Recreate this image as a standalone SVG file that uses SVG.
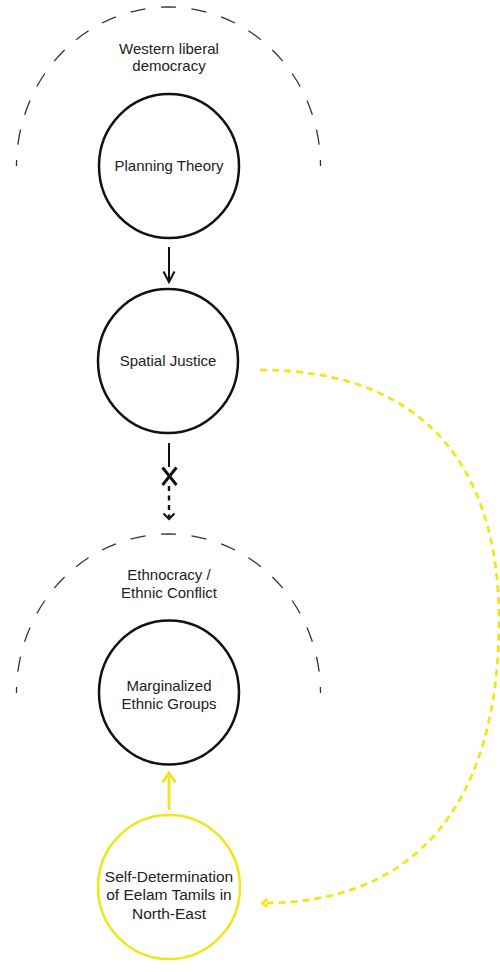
<svg xmlns="http://www.w3.org/2000/svg" width="500" height="972" viewBox="0 0 500 972">
  <style>
    text { font-family: "Liberation Sans", Arial, Helvetica, sans-serif; font-size: 15px; fill: #222; text-anchor: middle; }
    .node { fill: #fff; stroke: #111; stroke-width: 2.5; }
    .ynode { fill: #fff; stroke: #EFE61E; stroke-width: 2.6; }
    .ctx { fill: none; stroke: #333; stroke-width: 1.3; stroke-dasharray: 15 15.2; stroke-dashoffset: 9.1; }
    .blk { fill: none; stroke: #111; stroke-width: 2; }
    .ylw { fill: none; stroke: #EFE61E; stroke-width: 2.8; }
  </style>
  <rect width="500" height="972" fill="#fff"/>

  <g id="context-western">
    <path class="ctx" pathLength="480" d="M16.5,166 A152,159 0 0 1 320.5,166"/>
    <text x="169" y="54">Western liberal</text>
    <text x="169" y="71">democracy</text>
  </g>

  <g id="context-ethnocracy">
    <path class="ctx" pathLength="480" d="M16.5,693 A152,159 0 0 1 320.5,693"/>
    <text x="169" y="580">Ethnocracy /</text>
    <text x="169" y="598">Ethnic Conflict</text>
  </g>

  <g id="connectors">
    <!-- Planning Theory -> Spatial Justice -->
    <line class="blk" x1="169" y1="247" x2="169" y2="282"/>
    <polyline class="blk" points="163.5,271.5 169,282 174.5,271.5"/>
    <!-- Spatial Justice -X-> Marginalized -->
    <line class="blk" x1="169" y1="443" x2="169" y2="467"/>
    <line x1="162.5" y1="467.5" x2="176.5" y2="485" stroke="#111" stroke-width="2.9"/>
    <line x1="176.5" y1="467.5" x2="162.5" y2="485" stroke="#111" stroke-width="2.9"/>
    <line x1="169" y1="486" x2="169" y2="517" stroke="#111" stroke-width="2.4" stroke-dasharray="5 4.5"/>
    <polyline class="blk" points="163.5,513.5 169,519 174.5,513.5"/>
    <!-- Self-Determination -> Marginalized -->
    <line class="ylw" x1="169" y1="810" x2="169" y2="773"/>
    <polyline class="ylw" points="162.5,782.5 169,773 175.5,782.5"/>
    <!-- Spatial Justice <-> Self-Determination (dashed) -->
    <path class="ylw" stroke-width="2.5" stroke-dasharray="7 5" d="M260,370 C415,370 499,457.5 499,620 C499,804 416,903 264,903"/>
    <polyline class="ylw" stroke-width="2.5" points="267.5,899 262.5,903 267.5,907"/>
  </g>

  <g id="planning-theory">
    <ellipse class="node" cx="169" cy="166" rx="70" ry="72"/>
    <text x="169" y="171">Planning Theory</text>
  </g>

  <g id="spatial-justice">
    <ellipse class="node" cx="168" cy="361" rx="70" ry="72"/>
    <text x="168" y="366">Spatial Justice</text>
  </g>

  <g id="marginalized-ethnic-groups">
    <ellipse class="node" cx="169" cy="692.5" rx="70" ry="72"/>
    <text x="169" y="691">Marginalized</text>
    <text x="169" y="708.5">Ethnic Groups</text>
  </g>

  <g id="self-determination">
    <ellipse class="ynode" cx="169" cy="887" rx="71" ry="72"/>
    <text x="169" y="881.5" style="font-size:15.5px">Self-Determination</text>
    <text x="169" y="900" style="font-size:15.5px">of Eelam Tamils in</text>
    <text x="169" y="918.5" style="font-size:15.5px">North-East</text>
  </g>
</svg>
